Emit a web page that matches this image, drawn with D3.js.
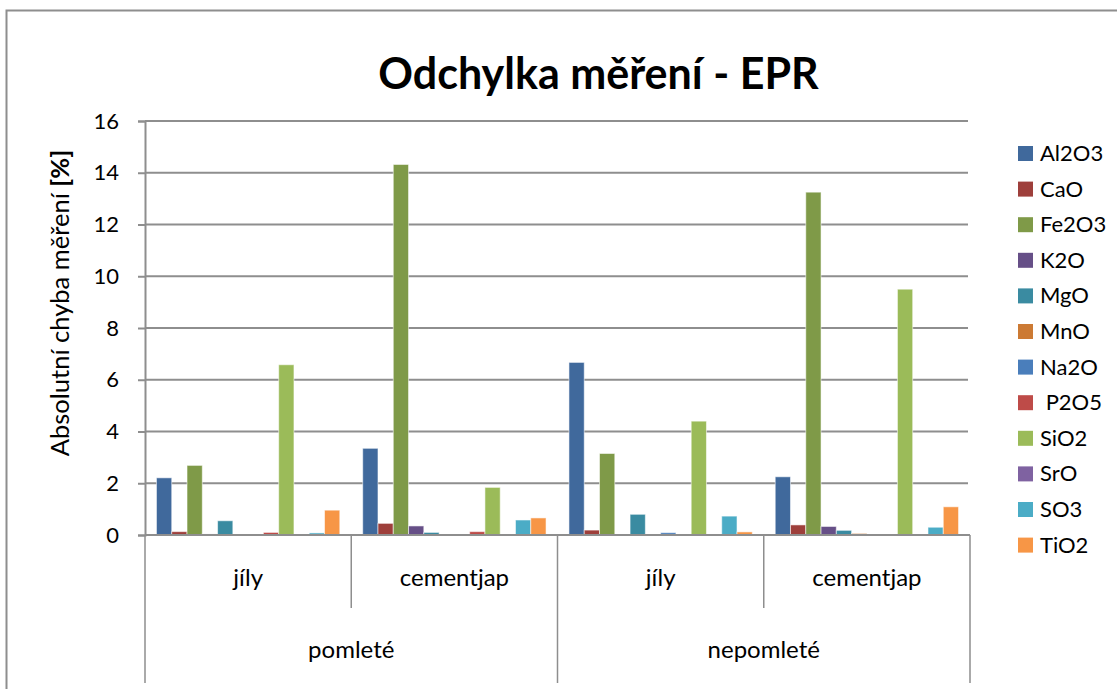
<!DOCTYPE html>
<html>
<head>
<meta charset="utf-8">
<script src="https://cdnjs.cloudflare.com/ajax/libs/d3/7.8.5/d3.min.js"></script>
<style>
  body { margin: 0; background: #fff; }
  text { font-family: Lato, "Open Sans", sans-serif; fill: #000; }
</style>
</head>
<body>
<div class="chart"></div>
<script>
// data
const outerGroups = ["pomleté", "nepomleté"];
const innerGroups = ["jíly", "cementjap"];
const oxides = ["Al2O3", "CaO", "Fe2O3", "K2O", "MgO", "MnO", "Na2O", " P2O5", "SiO2", "SrO", "SO3", "TiO2"];
const oxideColors = ["#40699C", "#9E3F3B", "#7F9A48", "#664F87", "#3A8BA1", "#CC7A34", "#4A7EBB", "#BE4B48", "#9BBB59", "#7F62A1", "#4BACC6", "#F79646"];
// one value per oxide, in the order above
const pomleteJily      = [2.21, 0.13, 2.69, 0.04, 0.55, 0.01, 0.02, 0.10, 6.58, 0.00, 0.08, 0.96];
const pomleteCementjap = [3.35, 0.45, 14.32, 0.35, 0.10, 0.00, 0.00, 0.13, 1.84, 0.00, 0.58, 0.66];
const nepomleteJily      = [6.67, 0.19, 3.15, 0.00, 0.80, 0.00, 0.09, 0.00, 4.40, 0.00, 0.73, 0.12];
const nepomleteCementjap = [2.25, 0.39, 13.25, 0.33, 0.18, 0.06, 0.00, 0.02, 9.50, 0.00, 0.30, 1.09];
const yTicks = [0, 2, 4, 6, 8, 10, 12, 14, 16];

const groups = [
  {outer: outerGroups[0], inner: innerGroups[0], values: pomleteJily},
  {outer: outerGroups[0], inner: innerGroups[1], values: pomleteCementjap},
  {outer: outerGroups[1], inner: innerGroups[0], values: nepomleteJily},
  {outer: outerGroups[1], inner: innerGroups[1], values: nepomleteCementjap}
];

let width = 1117, height = 689;
let plot = {left: 145, right: 970, top: 121, bottom: 535};
let gridColor = "#8e8e8e";

let svg = d3.select(".chart")
            .append("svg")
            .attr("width", width)
            .attr("height", height);

// chart frame (right and bottom edges fall outside the picture)
svg.append("rect")
   .attr("x", 6.5).attr("y", 10.5)
   .attr("width", 1130).attr("height", 700)
   .attr("fill", "#fff")
   .attr("stroke", gridColor)
   .attr("stroke-width", 2);

let y = d3.scaleLinear().domain([0, 16]).range([plot.bottom, plot.top]);
let x0 = d3.scaleBand()
           .domain(groups.map((d, i) => i))
           .range([plot.left, plot.right]);
let x1 = d3.scaleBand()
           .domain(oxides)
           .range([0, x0.bandwidth()])
           .paddingOuter(0.75);

// gridlines
svg.append("g")
   .selectAll("line")
   .data(yTicks.filter(d => d > 0))
   .enter()
   .append("line")
   .attr("x1", plot.left).attr("x2", plot.right - 2)
   .attr("y1", d => y(d)).attr("y2", d => y(d))
   .attr("stroke", gridColor)
   .attr("stroke-width", 2);

// y axis
let yAxis = svg.append("g")
               .attr("transform", "translate(" + plot.left + ",0)")
               .call(d3.axisLeft(y).tickValues(yTicks).tickSize(7).tickPadding(19));
yAxis.select(".domain").attr("stroke", gridColor).attr("stroke-width", 2);
yAxis.selectAll(".tick line").attr("stroke", gridColor).attr("stroke-width", 2);
yAxis.selectAll(".tick text")
     .style("font-size", "22px")
     .attr("fill", "#000");

// bars
let gGroups = svg.append("g")
                 .selectAll("g")
                 .data(groups)
                 .enter()
                 .append("g")
                 .attr("transform", (d, i) => "translate(" + x0(i) + ",0)");
gGroups.selectAll("rect")
       .data(d => d.values.map((v, k) => ({key: oxides[k], value: v, color: oxideColors[k]})))
       .enter()
       .append("rect")
       .attr("x", d => x1(d.key))
       .attr("width", x1.bandwidth())
       .attr("y", d => y(d.value))
       .attr("height", d => y(0) - y(d.value))
       .attr("fill", d => d.color)
       .attr("stroke", d => d.value > 0 ? "rgba(255,255,255,0.55)" : "none")
       .attr("stroke-width", 1);

// category axis (x)
svg.append("line")
   .attr("x1", plot.left).attr("x2", plot.right)
   .attr("y1", y(0)).attr("y2", y(0))
   .attr("stroke", gridColor).attr("stroke-width", 2);

let bounds = [0, 1, 2, 3, 4].map(i => i < 4 ? x0(i) : plot.right);
svg.append("g")
   .selectAll("line")
   .data(bounds)
   .enter()
   .append("line")
   .attr("x1", d => d).attr("x2", d => d)
   .attr("y1", y(0))
   .attr("y2", (d, i) => i % 2 === 0 ? 683 : 608)
   .attr("stroke", gridColor).attr("stroke-width", 1.5);

svg.append("g")
   .selectAll("text")
   .data(groups)
   .enter()
   .append("text")
   .attr("x", (d, i) => x0(i) + x0.bandwidth() / 2)
   .attr("y", 586)
   .attr("text-anchor", "middle")
   .style("font-size", "24px")
   .text(d => d.inner);

svg.append("g")
   .selectAll("text")
   .data(outerGroups)
   .enter()
   .append("text")
   .attr("x", (d, i) => x0(i * 2) + x0.bandwidth())
   .attr("y", 658)
   .attr("text-anchor", "middle")
   .style("font-size", "24px")
   .text(d => d);

// title
svg.append("text")
   .attr("x", 598.5)
   .attr("y", 89)
   .attr("text-anchor", "middle")
   .style("font-size", "43px")
   .style("font-weight", "bold")
   .text("Odchylka měření - EPR");

// y axis title, the unit part is bold
let yTitle = svg.append("text")
                .attr("transform", "translate(69,303) rotate(-90)")
                .attr("text-anchor", "middle")
                .style("font-size", "25.5px");
yTitle.append("tspan").text("Absolutní chyba měření ");
yTitle.append("tspan").style("font-weight", "bold").text("[%]");

// legend
let legend = svg.append("g")
                .selectAll("g")
                .data(oxides)
                .enter()
                .append("g")
                .attr("transform", (d, i) => "translate(1018," + (153 + i * 35.6) + ")");
legend.append("rect")
      .attr("x", 0).attr("y", -7)
      .attr("width", 15).attr("height", 15)
      .attr("fill", (d, i) => oxideColors[i]);
legend.append("text")
      .attr("x", 22)
      .attr("y", 8)
      .style("font-size", "22px")
      .style("white-space", "pre")
      .text(d => d);
</script>
</body>
</html>
